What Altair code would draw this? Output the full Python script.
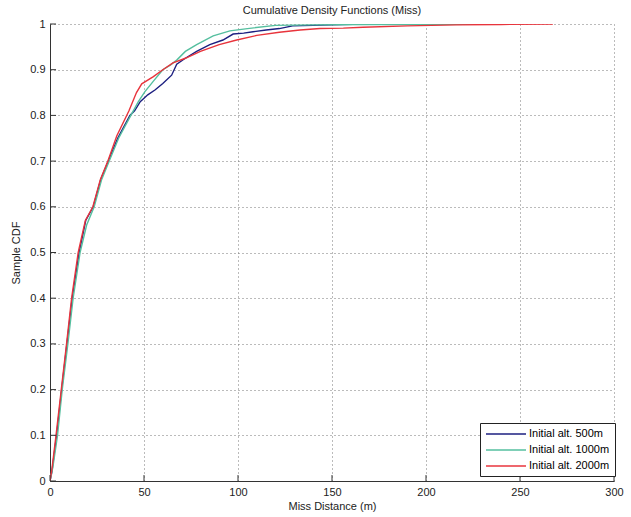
import altair as alt
import pandas as pd

series_names = ["Initial alt. 500m", "Initial alt. 1000m", "Initial alt. 2000m"]
series_colors = ["#1c1f80", "#55bf9f", "#e8343c"]

x_500 = [0, 1, 3.5, 6.2, 9, 11.8, 15.5, 19, 23, 27, 31, 36, 42.5, 45, 48, 52, 56, 60, 64.7,
         67.4, 72, 78, 85, 92, 97.4, 103, 108, 115, 122, 129, 140, 150, 166.5]
y_500 = [0, 0.02, 0.1, 0.2, 0.3, 0.4, 0.5, 0.57, 0.6, 0.66, 0.7, 0.75, 0.8, 0.81, 0.83, 0.845,
         0.856, 0.87, 0.888, 0.912, 0.925, 0.94, 0.955, 0.965, 0.978, 0.98, 0.983, 0.987, 0.99,
         0.996, 0.997, 0.998, 1.0]

x_1000 = [0, 1.5, 4, 6.5, 9.5, 12.3, 16, 19.5, 23.5, 27.5, 31.5, 36.5, 43, 47, 50.5, 55, 60, 64,
          67.4, 72, 78, 86.8, 95.7, 105, 120, 140, 170, 200, 243]
y_1000 = [0, 0.03, 0.1, 0.2, 0.3, 0.4, 0.5, 0.56, 0.6, 0.66, 0.7, 0.75, 0.8, 0.83, 0.852, 0.875,
          0.9, 0.91, 0.921, 0.94, 0.955, 0.974, 0.985, 0.99, 0.997, 0.998, 0.999, 0.999, 1.0]

x_2000 = [0, 1, 3.2, 6, 8.8, 11.5, 15, 18.8, 22.8, 26.8, 30.8, 35.5, 42, 46, 48.8, 55, 60, 65.4,
          72, 80, 90, 99.3, 110, 122, 133, 143.6, 156, 166.5, 190, 216, 240, 267.5]
y_2000 = [0, 0.025, 0.1, 0.2, 0.3, 0.4, 0.5, 0.57, 0.6, 0.66, 0.7, 0.755, 0.81, 0.85, 0.869,
          0.885, 0.9, 0.915, 0.925, 0.94, 0.955, 0.965, 0.975, 0.982, 0.987, 0.99, 0.991, 0.993,
          0.996, 0.998, 0.999, 1.0]

x_ticks = [0, 50, 100, 150, 200, 250, 300]
y_ticks = [0, 0.1, 0.2, 0.3, 0.4, 0.5, 0.6, 0.7, 0.8, 0.9, 1.0]

rows = []
for name, xs, ys in zip(series_names, [x_500, x_1000, x_2000], [y_500, y_1000, y_2000]):
    for i, (xv, yv) in enumerate(zip(xs, ys)):
        rows.append({"series": name, "x": xv, "y": yv, "i": i})
df = pd.DataFrame(rows)

FONT = "Liberation Sans"

xscale = alt.Scale(domain=[0, 300], nice=False, zero=False)
yscale = alt.Scale(domain=[0, 1], nice=False)

lines = alt.Chart(df).mark_line(strokeWidth=1.4, clip=True).encode(
    x=alt.X("x:Q", scale=xscale, title="Miss Distance (m)",
            axis=alt.Axis(values=x_ticks, format="d", grid=True, gridDash=[1, 3],
                          gridColor="#777", ticks=False, labelPadding=5, titlePadding=3,
                          domainColor="#333", labelFlush=False)),
    y=alt.Y("y:Q", scale=yscale, title="Sample CDF",
            axis=alt.Axis(values=y_ticks, format="~g", grid=True, gridDash=[1, 3],
                          gridColor="#777", ticks=False, labelPadding=5, titlePadding=8,
                          domainColor="#333")),
    color=alt.Color("series:N", scale=alt.Scale(domain=series_names, range=series_colors),
                    sort=series_names,
                    legend=alt.Legend(title=None, orient="none", legendX=430, legendY=399,
                                      symbolType="M-1,0L7,0", symbolSize=100,
                                      symbolStrokeWidth=1.5, labelFontSize=11,
                                      labelFont=FONT, strokeColor="#222", fillColor="white",
                                      padding=5, rowPadding=5, labelLimit=200,
                                      labelOffset=32, offset=0)),
    order="i:Q",
)

xt = alt.Chart(pd.DataFrame({"t": x_ticks})).mark_rule(color="#333").encode(
    x="t:Q", y=alt.datum(0), y2=alt.datum(0.013))
yt = alt.Chart(pd.DataFrame({"t": y_ticks})).mark_rule(color="#333").encode(
    y="t:Q", x=alt.datum(0), x2=alt.datum(3.2))

chart = alt.layer(lines, xt, yt).properties(
    width=564, height=457,
    title=alt.TitleParams("Cumulative Density Functions (Miss)", fontSize=11, fontWeight="normal",
                          font=FONT, offset=2, color="#222"),
    autosize=alt.AutoSizeParams(type="none"),
    padding={"left": 50, "top": 24, "right": 17, "bottom": 36},
).configure_view(stroke=None).configure_axis(
    labelFont=FONT, titleFont=FONT, labelFontSize=11, titleFontSize=11,
    titleFontWeight="normal", labelColor="#222", titleColor="#222"
)

chart.save("out.html", embed_options={"renderer": "svg", "actions": False})
